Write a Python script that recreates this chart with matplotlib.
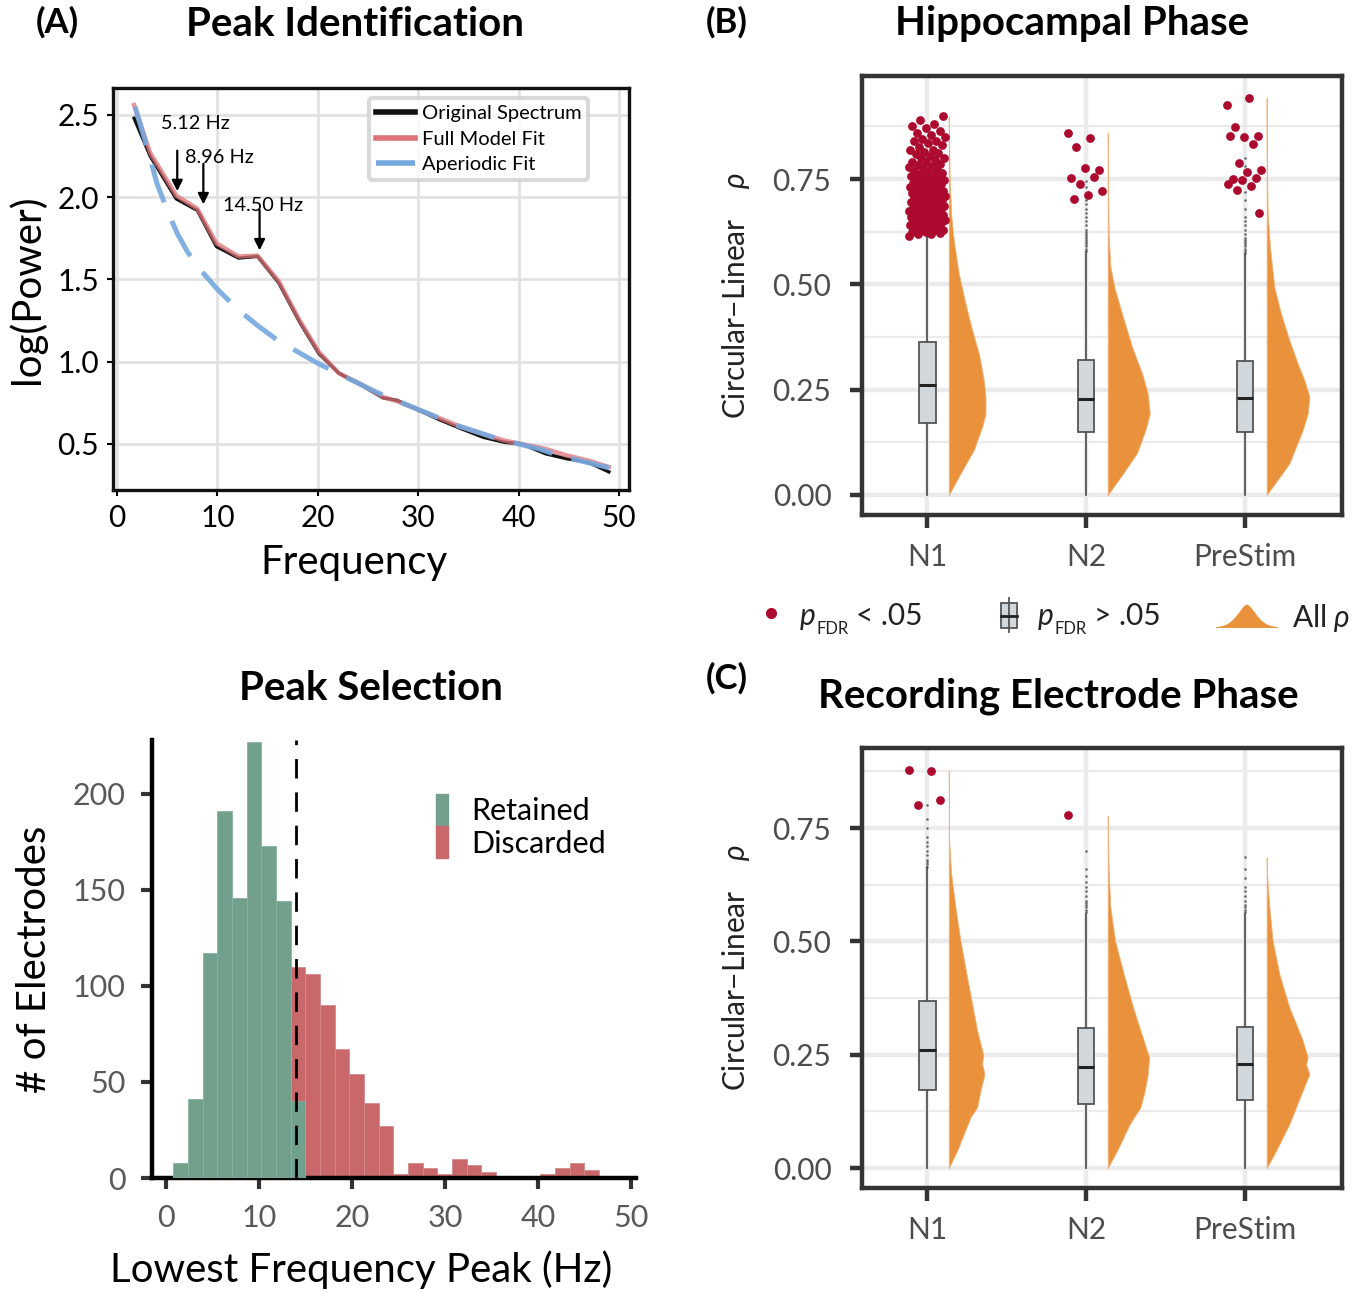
import numpy as np
import matplotlib
matplotlib.use('Agg')
import matplotlib.pyplot as plt
from matplotlib.patches import Patch, Rectangle, Polygon

plt.rcParams['font.family'] = ['Lato', 'DejaVu Sans']
plt.rcParams['mathtext.fontset'] = 'custom'
plt.rcParams['mathtext.rm'] = 'Lato'
plt.rcParams['mathtext.it'] = 'Lato:italic'
plt.rcParams['mathtext.bf'] = 'Lato:bold'

W, H = 1368, 1294

# ---------------- (A) power spectrum ----------------
spec_freq = [1.7, 3.3, 5.9, 8.0, 9.9, 12.1, 14.0, 16.1, 18.2, 20.1, 22.1, 24.4, 26.5, 27.9,
             29.9, 32.0, 34.4, 36.5, 38.6, 40.3, 42.7, 44.8, 46.9, 49.0]
orig_spec = [2.48, 2.25, 1.99, 1.92, 1.70, 1.63, 1.64, 1.48, 1.24, 1.05, 0.93, 0.855, 0.78, 0.765,
             0.71, 0.65, 0.59, 0.54, 0.51, 0.50, 0.44, 0.41, 0.39, 0.33]
model_fit = [2.56, 2.27, 2.01, 1.93, 1.72, 1.64, 1.645, 1.49, 1.25, 1.06, 0.93, 0.86, 0.785, 0.76,
             0.71, 0.66, 0.60, 0.56, 0.52, 0.50, 0.47, 0.43, 0.40, 0.36]
aper_freq = [1.8, 3, 4, 5, 6, 7, 8, 10, 12, 14, 16, 18, 20, 22, 24, 26, 28, 30, 32, 34, 36, 38,
             40, 42, 44, 46, 48, 49]
aper_fit = [2.55, 2.30, 2.08, 1.92, 1.78, 1.67, 1.58, 1.44, 1.32, 1.22, 1.13, 1.06, 0.99, 0.93,
            0.87, 0.81, 0.76, 0.71, 0.66, 0.61, 0.57, 0.53, 0.50, 0.47, 0.43, 0.40, 0.37, 0.355]
peak_labels = ['5.12 Hz', '8.96 Hz', '14.50 Hz']
peak_arrow_x = [6.0, 8.6, 14.2]
peak_arrow_y = [2.02, 1.94, 1.66]

# ---------------- peak selection histogram ----------------
bin_start = 0.78
bin_width = 1.577
retained = [8, 41, 117, 191, 146, 227, 173, 144, 40]
discarded_first_bin = 8
discarded = [110, 106, 90, 67, 54, 39, 27, 2, 8, 5, 2, 10, 7, 3, 1, 1, 0, 2, 5, 8, 4, 1]
cutoff = 14

# ---------------- (B) hippocampal phase ----------------
categories = ['N1', 'N2', 'PreStim']
hip_q1 = [0.170, 0.150, 0.150]
hip_med = [0.261, 0.229, 0.231]
hip_q3 = [0.363, 0.320, 0.318]
hip_whishi = [0.64, 0.576, 0.572]
hip_fliers = [
    [0.66, 0.69, 0.72, 0.76, 0.80, 0.83],
    [0.58, 0.585, 0.59, 0.595, 0.60, 0.605, 0.61, 0.615, 0.62, 0.625, 0.63, 0.64, 0.65, 0.66,
     0.67, 0.68, 0.69, 0.70, 0.715, 0.73, 0.745],
    [0.575, 0.58, 0.585, 0.59, 0.595, 0.60, 0.605, 0.61, 0.62, 0.63, 0.64, 0.65, 0.66, 0.68,
     0.70, 0.72, 0.75, 0.78, 0.80],
]
hip_sig = [
    [0.615, 0.62, 0.62, 0.622, 0.625, 0.625, 0.628, 0.63, 0.63, 0.632, 0.635, 0.635, 0.638,
     0.64, 0.64, 0.642, 0.645, 0.645, 0.647, 0.65, 0.65, 0.652, 0.655, 0.655, 0.657, 0.66, 0.66,
     0.662, 0.665, 0.665, 0.667, 0.67, 0.67, 0.672, 0.675, 0.675, 0.677, 0.68, 0.68, 0.682,
     0.685, 0.685, 0.687, 0.69, 0.69, 0.692, 0.695, 0.695, 0.697, 0.70, 0.70, 0.702, 0.705,
     0.705, 0.707, 0.71, 0.71, 0.712, 0.715, 0.715, 0.717, 0.72, 0.72, 0.722, 0.725, 0.725,
     0.728, 0.73, 0.73, 0.733, 0.735, 0.738, 0.74, 0.74, 0.743, 0.745, 0.748, 0.75, 0.75,
     0.753, 0.755, 0.758, 0.76, 0.762, 0.765, 0.768, 0.77, 0.772, 0.775, 0.778, 0.78, 0.783,
     0.785, 0.79, 0.79, 0.795, 0.80, 0.80, 0.805, 0.81, 0.812, 0.815, 0.82, 0.82, 0.825, 0.83,
     0.835, 0.84, 0.84, 0.845, 0.85, 0.855, 0.86, 0.865, 0.87, 0.875, 0.88, 0.89, 0.90],
    [0.860, 0.847, 0.825, 0.771, 0.775, 0.752, 0.755, 0.737, 0.721, 0.712, 0.702],
    [0.925, 0.943, 0.874, 0.853, 0.849, 0.853, 0.832, 0.788, 0.771, 0.767, 0.750, 0.752,
     0.748, 0.738, 0.733, 0.724, 0.669],
]
hip_dens_rho = [
    [0, 0.051, 0.107, 0.162, 0.193, 0.233, 0.272, 0.336, 0.391, 0.454, 0.525, 0.604, 0.667,
     0.746, 0.825, 0.898],
    [0, 0.05, 0.10, 0.154, 0.193, 0.241, 0.288, 0.351, 0.430, 0.493, 0.541, 0.612, 0.746, 0.86],
    [0, 0.075, 0.1145, 0.154, 0.193, 0.233, 0.272, 0.312, 0.367, 0.430, 0.493, 0.588, 0.667,
     0.80, 0.943],
]
hip_dens = [
    [0, 35, 75, 100, 110, 110, 105, 90, 70, 50, 30, 15, 7, 3, 1, 0],
    [0, 45, 88, 113, 126, 120, 103, 73, 43, 20, 8, 3, 1, 0],
    [0, 68, 88, 108, 123, 128, 113, 93, 68, 43, 23, 10, 3, 0.5, 0],
]

# ---------------- (C) recording electrode phase ----------------
rec_q1 = [0.171, 0.141, 0.149]
rec_med = [0.260, 0.222, 0.229]
rec_q3 = [0.368, 0.309, 0.312]
rec_whishi = [0.663, 0.56, 0.56]
rec_fliers = [
    [0.665, 0.67, 0.675, 0.68, 0.69, 0.70, 0.71, 0.72, 0.73, 0.75, 0.77, 0.80],
    [0.565, 0.57, 0.575, 0.58, 0.585, 0.59, 0.60, 0.61, 0.62, 0.63, 0.645, 0.66, 0.70],
    [0.565, 0.57, 0.575, 0.58, 0.59, 0.60, 0.61, 0.62, 0.64, 0.66, 0.685],
]
rec_sig = [[0.878, 0.875, 0.801, 0.812], [0.778], []]
rec_dens_rho = [
    [0, 0.038, 0.075, 0.112, 0.134, 0.171, 0.207, 0.229, 0.251, 0.303, 0.362, 0.428, 0.501,
     0.575, 0.649, 0.722, 0.832, 0.876],
    [0, 0.038, 0.097, 0.134, 0.171, 0.207, 0.244, 0.281, 0.354, 0.428, 0.501, 0.575, 0.649, 0.777],
    [0, 0.038, 0.097, 0.134, 0.171, 0.207, 0.229, 0.244, 0.281, 0.318, 0.354, 0.428, 0.501,
     0.575, 0.649, 0.685],
]
rec_dens = [
    [0, 25, 45, 65, 85, 95, 107, 100, 103, 85, 70, 53, 35, 20, 7, 1, 0.3, 0],
    [0, 28, 66, 98, 111, 120, 124, 108, 76, 48, 22, 8, 3, 0],
    [0, 28, 68, 88, 108, 128, 118, 123, 108, 88, 68, 38, 18, 8, 1, 0],
]


def box(x0, y0, x1, y1):
    # pixel box -> figure rect
    return [x0 / W, 1 - y1 / H, (x1 - x0) / W, (y1 - y0) / H]


def ftext(x, y, s, **kw):
    fig.text(x / W, 1 - y / H, s, **kw)


fig = plt.figure(figsize=(W / 100, H / 100), dpi=100)

# ======== (A) ========
ax = fig.add_axes(box(113, 88, 629, 490))
ax.set_xlim(-0.4, 51)
ax.set_ylim(0.22, 2.664)
ax.grid(True, color='#e2e2e2', lw=2)
ax.set_axisbelow(True)
ax.plot(spec_freq, orig_spec, color='#111111', lw=2.4, label='Original Spectrum', zorder=3)
ax.plot(spec_freq, model_fit, color='#de7379', lw=3.2, alpha=0.75, label='Full Model Fit', zorder=4)
ax.plot(aper_freq, aper_fit, color='#74a8de', lw=3.6, alpha=0.9, dashes=(8, 4),
        label='Aperiodic Fit', zorder=5)
for lab, fx, fy in zip(peak_labels, peak_arrow_x, peak_arrow_y):
    ax.annotate('', xy=(fx, fy), xytext=(fx, fy + 0.28),
                arrowprops=dict(arrowstyle='-|>', color='black', lw=1.6, mutation_scale=16),
                zorder=6)
ax.text(peak_arrow_x[0] - 1.6, peak_arrow_y[0] + 0.43, peak_labels[0], fontsize=14.3, va='center')
ax.text(peak_arrow_x[1] - 1.8, peak_arrow_y[1] + 0.30, peak_labels[1], fontsize=14.3, va='center')
ax.text(peak_arrow_x[2] - 3.6, peak_arrow_y[2] + 0.29, peak_labels[2], fontsize=14.3, va='center')
leg = ax.legend(loc='upper left', bbox_to_anchor=(0.485, 0.99), fontsize=14.5, frameon=True,
                handlelength=1.9, handletextpad=0.35, labelspacing=0.42, borderpad=0.35,
                borderaxespad=0.3, fancybox=True, edgecolor='#d0d0d0')
leg.get_frame().set_linewidth(3)
for line in leg.get_lines():
    line.set_linewidth(4)
    line.set_alpha(1)
ax.set_xticks([0, 10, 20, 30, 40, 50])
ax.set_yticks([0.5, 1.0, 1.5, 2.0, 2.5])
ax.set_yticklabels(['0.5', '1.0', '1.5', '2.0', '2.5'])
ax.tick_params(labelsize=21.5, length=4, width=1.5, pad=6)
for s in ax.spines.values():
    s.set_linewidth(2.4)
    s.set_color('#111111')
ax.set_xlabel('Frequency', fontsize=29)
ax.xaxis.set_label_coords((354 - 113) / 516, -0.135)
ax.set_ylabel('log(Power)', fontsize=29, labelpad=8)

# ======== histogram ========
hx = fig.add_axes(box(152, 740, 636, 1178))
hx.set_xlim(-1.5, 50.5)
hx.set_ylim(0, 228)
d_left = [bin_start + bin_width * (discarded_first_bin + k) for k in range(len(discarded))]
r_left = [bin_start + bin_width * k for k in range(len(retained))]
hx.bar(d_left, discarded, width=bin_width, align='edge', color='#c9686a',
       edgecolor='#d58a8b', lw=0.6, label='Discarded', zorder=2)
hx.bar(r_left, retained, width=bin_width, align='edge', color='#72a08d',
       edgecolor='#89b2a2', lw=0.6, label='Retained', zorder=3)
hx.axvline(cutoff, color='black', lw=2, dashes=(7, 5), zorder=4)
for s in ['top', 'right']:
    hx.spines[s].set_visible(False)
for s in ['left', 'bottom']:
    hx.spines[s].set_linewidth(3.2)
    hx.spines[s].set_color('black')
hx.set_xticks([0, 10, 20, 30, 40, 50])
hx.set_yticks([0, 50, 100, 150, 200])
hx.tick_params(labelsize=22, labelcolor='#595959', length=8, width=3, color='#333333', pad=11)
hx.set_xlabel('Lowest Frequency Peak (Hz)', fontsize=29)
hx.xaxis.set_label_coords((361 - 152) / 484, -0.166)
hx.set_ylabel('# of Electrodes', fontsize=29, labelpad=14)
handles = [Patch(color='#72a08d'), Patch(color='#c9686a')]
hx.legend(handles, ['Retained', 'Discarded'], loc='upper left', bbox_to_anchor=(0.53, 0.94),
          frameon=False, fontsize=22, handlelength=0.4, handleheight=1.25, handletextpad=0.75,
          labelspacing=0.0)


# ======== (B) and (C) ========
def rain_panel(ax, q1, med, q3, whishi, fliers, sig, dens_rho, dens, ylim):
    ax.set_xlim(-0.41, 2.61)
    ax.set_ylim(*ylim)
    for v in [0.125, 0.375, 0.625, 0.875]:
        ax.axhline(v, color='#ebebeb', lw=1.6, zorder=0)
    for v in [0, 0.25, 0.5, 0.75]:
        ax.axhline(v, color='#ebebeb', lw=3.2, zorder=0)
    for i in range(len(categories)):
        ax.axvline(i, color='#ebebeb', lw=3.2, zorder=0)
    stats = [dict(med=med[i], q1=q1[i], q3=q3[i], whislo=0.0, whishi=whishi[i],
                  fliers=fliers[i]) for i in range(len(categories))]
    ax.bxp(stats, positions=range(len(categories)), widths=0.105, patch_artist=True,
           showcaps=False,
           boxprops=dict(facecolor='#d2d7db', edgecolor='#555555', linewidth=1.3),
           medianprops=dict(color='#222222', linewidth=2.2),
           whiskerprops=dict(color='#555555', linewidth=1.3),
           flierprops=dict(marker='o', markersize=1.8, markerfacecolor='#444444',
                           markeredgecolor='none', alpha=0.8),
           zorder=2)
    for i in range(len(categories)):
        r = np.linspace(0, dens_rho[i][-1], 400)
        w = np.interp(r, dens_rho[i], dens[i]) * 0.0021
        ax.fill_betweenx(r, i + 0.136, i + 0.136 + w, color='#e9913b', lw=0.6,
                         edgecolor='#f0b27a', zorder=2)
        n = len(sig[i])
        jit = ((np.arange(n) * 0.618034) % 1 - 0.5) * 0.23
        ax.scatter(i + jit, sig[i], s=40, color='#ad0a30', lw=0, zorder=3)
    for s in ax.spines.values():
        s.set_linewidth(3.2)
        s.set_color('#333333')
    ax.set_xticks(range(len(categories)))
    ax.set_xticklabels(categories)
    ax.set_yticks([0, 0.25, 0.5, 0.75])
    ax.set_yticklabels(['0.00', '0.25', '0.50', '0.75'])
    ax.tick_params(labelsize=21.5, labelcolor='#4d4d4d', length=9, width=3.2, color='#333333')
    ax.tick_params(axis='y', pad=13)
    ax.tick_params(axis='x', pad=11)
    ax.set_ylabel('Circular\u2212Linear    $\\rho$', fontsize=21.5, color='#222222',
                  labelpad=15)


bx = fig.add_axes(box(862, 76, 1342, 515))
rain_panel(bx, hip_q1, hip_med, hip_q3, hip_whishi, hip_fliers, hip_sig, hip_dens_rho, hip_dens,
           (-0.0475, 0.9945))
cx = fig.add_axes(box(862, 748, 1342, 1188))
rain_panel(cx, rec_q1, rec_med, rec_q3, rec_whishi, rec_fliers, rec_sig, rec_dens_rho, rec_dens,
           (-0.0441, 0.9265))

# ======== legend row for (B)/(C) ========
lg = fig.add_axes([0, 0, 1, 1], zorder=-1)
lg.set_xlim(0, W)
lg.set_ylim(H, 0)
lg.axis('off')
lg.plot([771], [613], 'o', ms=8, color='#ad0a30', mec='none')
lg.plot([1009, 1009], [598, 632], color='#555555', lw=1.3)
lg.add_patch(Rectangle((1001, 603), 16, 25, facecolor='#d2d7db', edgecolor='#555555', lw=1.3))
lg.plot([1001, 1017], [615.5, 615.5], color='#222222', lw=2)
gx = np.linspace(1216, 1278, 80)
gy = 628 - 23 * np.exp(-np.abs((gx - 1247) / 13.0) ** 1.6)
lg.add_patch(Polygon(np.column_stack([gx, gy]), closed=True, facecolor='#e9913b',
                     edgecolor='#e9913b', lw=0.6))
for x0, sym in [(800, '<'), (1038, '>')]:
    ftext(x0, 616, 'p', fontsize=21.5, fontstyle='italic', va='center', color='#222222')
    ftext(x0 + 16, 629, 'FDR', fontsize=12, va='center', color='#222222')
    ftext(x0 + 56, 616, sym + ' .05', fontsize=21.5, va='center', color='#222222')
ftext(1292, 618, 'All $\\rho$', fontsize=21.5, va='center', color='#222222')

# ======== titles and panel letters ========
ftext(57, 22, '(A)', fontsize=25, fontweight='bold', ha='center', va='center')
ftext(727, 22, '(B)', fontsize=25, fontweight='bold', ha='center', va='center')
ftext(727, 678, '(C)', fontsize=25, fontweight='bold', ha='center', va='center')
ftext(355, 24, 'Peak Identification', fontsize=29, fontweight='bold', ha='center', va='center')
ftext(371, 688, 'Peak Selection', fontsize=29, fontweight='bold', ha='center', va='center')
ftext(1072, 24, 'Hippocampal Phase', fontsize=29, fontweight='bold', ha='center', va='center')
ftext(1058, 696, 'Recording Electrode Phase', fontsize=29, fontweight='bold', ha='center',
      va='center')

fig.savefig('out.png', dpi=100)
